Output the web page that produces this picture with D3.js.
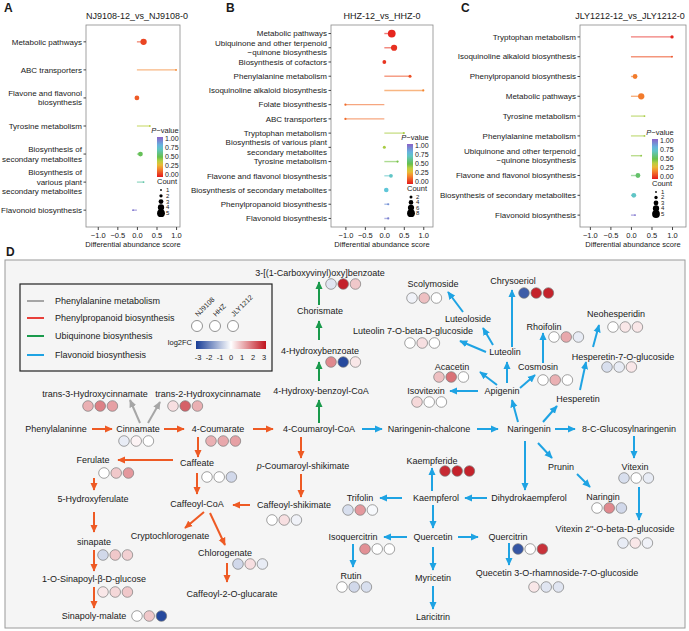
<!DOCTYPE html>
<meta charset="utf-8">
<script src="https://d3js.org/d3.v7.min.js"></script>
<style>
body { margin: 0; background: #fff; }
text { font-family: "Liberation Sans", Arial, sans-serif; fill: #1a1a1a; }
</style>
<div id="fig"></div>
<script>

// ---- panels A-C: differential abundance scores ----
var pathA = ["Metabolic pathways", "ABC transporters", "Flavone and flavonol|biosynthesis", "Tyrosine metabolism",
  "Biosynthesis of|secondary metabolites", "Biosynthesis of|various plant|secondary metabolites", "Flavonoid biosynthesis"];
var scoreA = [0.17, 1.0, 0.0, 0.33, 0.09, 0.17, -0.1];
var countA = [4, 1, 3, 1, 3, 1, 1];
var pvalA = [0.08, 0.2, 0.12, 0.4, 0.52, 0.65, 0.95];

var pathB = ["Metabolic pathways", "Ubiquinone and other terpenoid|\u2212quinone biosynthesis", "Biosynthesis of cofactors",
  "Phenylalanine metabolism", "Isoquinoline alkaloid biosynthesis", "Folate biosynthesis", "ABC transporters",
  "Tryptophan metabolism", "Biosynthesis of various plant|secondary metabolites", "Tyrosine metabolism",
  "Flavone and flavonol biosynthesis", "Biosynthesis of secondary metabolites", "Phenylpropanoid biosynthesis",
  "Flavonoid biosynthesis"];
var scoreB = [0.19, 0.25, 0.0, 0.66, 1.0, -1.0, -1.0, 0.5, 0.0, 0.34, 0.17, 0.05, 0.1, 0.1];
var countB = [8, 6, 3, 2, 1, 1, 1, 1, 2, 1, 3, 4, 1, 1];
var pvalB = [0.02, 0.04, 0.05, 0.1, 0.2, 0.15, 0.15, 0.42, 0.42, 0.48, 0.7, 0.73, 0.88, 0.92];

var pathC = ["Tryptophan metabolism", "Isoquinoline alkaloid biosynthesis", "Phenylpropanoid biosynthesis",
  "Metabolic pathways", "Tyrosine metabolism", "Phenylalanine metabolism",
  "Ubiquinone and other terpenoid|\u2212quinone biosynthesis", "Flavone and flavonol biosynthesis",
  "Biosynthesis of secondary metabolites", "Flavonoid biosynthesis"];
var scoreC = [1.0, 1.0, 0.1, 0.25, 0.33, 0.33, 0.25, 0.17, 0.07, 0.1];
var countC = [2, 1, 3, 4, 1, 1, 1, 3, 3, 1];
var pvalC = [0.02, 0.1, 0.18, 0.18, 0.42, 0.42, 0.45, 0.55, 0.7, 0.95];

var xTicks = [-1, -0.5, 0, 0.5, 1];
var pTicks = [1, 0.75, 0.5, 0.25, 0];

// ---- panel D: log2FC per cultivar ----
var cultivars = ["NJ9108", "HHZ", "JLY1212"];
var fcNames = ["Cinnamate", "trans-3-Hydroxycinnamate", "trans-2-Hydroxycinnamate", "4-Coumarate", "Caffeate",
  "Ferulate", "sinapate", "1-O-Sinapoyl-\u03b2-D-glucose", "Sinapoly-malate", "Chlorogenate", "Caffeoyl-shikimate",
  "4-Hydroxybenzoate", "3-[(1-Carboxyvinyl)oxy]benzoate", "Isovitexin", "Acacetin", "Cosmosin",
  "Luteolin 7-O-beta-D-glucoside", "Scolymoside", "Chrysoeriol", "Rhoifolin", "Hesperetin-7-O-glucoside",
  "Neohesperidin", "Vitexin", "Vitexin 2''-O-beta-D-glucoside", "Naringin", "Kaempferide", "Trifolin",
  "Isoquercitrin", "Rutin", "Quercitrin", "Quecetin 3-O-rhamnoside-7-O-glucoside"];
var fcNJ9108  = [-0.3, 1.0, 0.4, 1.0, 0, 0, -0.6, 0.3, 0, -0.6, 0, 1.5, -0.4, 0.5, 0.8, 0, 0, -0.2, -2.5, 0, -0.5, 0, -0.5, -0.3, 0, 2.7, -0.5, 1.4, 0, -2.6, 0.3];
var fcHHZ     = [0.15, 1.6, 2.0, 1.1, 0, 0.7, 0.7, 0.5, 0.7, 0.4, 0.4, -2.8, 2.8, 0, 1.8, 1.0, 0.4, 0.8, 2.8, 1.1, -0.3, 0.3, 0, 0.3, 1.5, 2.8, 1.3, 0, -0.6, 0, -0.4];
var fcJLY1212 = [0, 1.2, 1.0, 1.2, -0.6, 1.3, 0.6, 0.7, -2.8, -0.3, -0.2, 0.3, 0.7, 0, 0, 0, 0, 0, 2.8, -0.3, 0.3, 0.3, -0.3, -0.2, -0.6, 2.8, -0.1, 0, -0.5, 2.6, -0.4];

var pathways = ["Phenylalanine metabolism", "Phenylpropanoid biosynthesis", "Ubiquinone  biosynthesis", "Flavonoid biosynthesis"];
var fcTicks = [-3, -2, -1, 0, 1, 2, 3];

// ---- layout of the pathway map (label centre, first circle) ----
var nodes = [
  ["Phenylalaninne", 56, 429], ["Cinnamate", 138, 429, 124, 441], ["trans-3-Hydroxycinnamate", 95, 394, 88, 406],
  ["trans-2-Hydroxycinnamate", 208, 394, 173, 406], ["4-Coumarate", 218, 429, 211, 441],
  ["Caffeate", 197, 463, 207, 477], ["Ferulate", 93, 460, 104, 473], ["5-Hydroxyferulate", 93, 499],
  ["sinapate", 94, 542, 103, 555], ["1-O-Sinapoyl-\u03b2-D-glucose", 94, 579, 103, 592],
  ["Sinapoly-malate", 94, 616, 137, 616], ["Caffeoyl-CoA", 197, 504], ["Cryptochlorogenate", 170, 536],
  ["Chlorogenate", 225, 553, 238, 564], ["Caffeoyl-2-O-glucarate", 232, 594],
  ["4-Coumaroyl-CoA", 319, 429], ["p-Coumaroyl-shikimate", 303, 466], ["Caffeoyl-shikimate", 294, 505, 272, 520],
  ["4-Hydroxy-benzoyl-CoA", 321, 391], ["4-Hydroxybenzoate", 320, 351, 331, 362], ["Chorismate", 320, 311],
  ["3-[(1-Carboxyvinyl)oxy]benzoate", 320, 273, 331, 284],
  ["Naringenin-chalcone", 429, 429], ["Naringenin", 529, 429], ["Apigenin", 502, 391],
  ["Isovitexin", 426, 391, 417, 402], ["Acacetin", 452, 367, 439, 377], ["Cosmosin", 538, 367, 543, 380],
  ["Luteolin", 505, 352], ["Luteoloside", 468, 319], ["Luteolin 7-O-beta-D-glucoside", 413, 331, 410, 343],
  ["Scolymoside", 433, 284, 412, 298], ["Chrysoeriol", 513, 281, 524, 293], ["Rhoifolin", 544, 327, 554, 337],
  ["Hesperetin", 578, 399], ["Hesperetin-7-O-glucoside", 623, 357, 607, 367], ["Neohesperidin", 616, 314, 613, 327],
  ["8-C-Glucosylnaringenin", 629, 429], ["Vitexin", 635, 467, 624, 478],
  ["Vitexin 2''-O-beta-D-glucoside", 615, 529, 623, 543], ["Prunin", 561, 467], ["Naringin", 603, 497, 597, 508],
  ["Dihydrokaempferol", 529, 498], ["Kaempferol", 436, 498], ["Kaempferide", 432, 461, 445, 471],
  ["Trifolin", 360, 498, 348, 510], ["Quercetin", 433, 537], ["Isoquercitrin", 353, 537, 365, 549],
  ["Rutin", 351, 576, 342, 587], ["Quercitrin", 508, 537, 518, 549],
  ["Quecetin 3-O-rhamnoside-7-O-glucoside", 557, 573, 534, 587], ["Myricetin", 433, 578], ["Laricitrin", 433, 617]
];
// arrows: pathway index, x1, y1, x2, y2
var edges = [
  [0, 140, 423, 130, 400], [0, 148, 423, 160, 402],
  [1, 92, 429, 112, 429], [1, 164, 429, 184, 429], [1, 253, 429, 273, 429], [1, 198, 437, 198, 457],
  [1, 173, 460, 118, 460], [1, 94, 478, 94, 490], [1, 197, 473, 197, 494], [1, 94, 512, 94, 532],
  [1, 94, 550, 94, 571], [1, 94, 587, 94, 608], [1, 204, 512, 185, 528], [1, 210, 513, 225, 545],
  [1, 227, 563, 227, 582], [1, 301, 437, 301, 458], [1, 301, 474, 301, 497], [1, 250, 505, 233, 505],
  [2, 319, 423, 319, 400], [2, 319, 381, 319, 362], [2, 319, 340, 319, 321], [2, 319, 305, 319, 282],
  [3, 362, 429, 382, 429], [3, 477, 429, 498, 429], [3, 555, 429, 575, 429], [3, 634, 436, 634, 458],
  [3, 639, 487, 639, 520], [3, 538, 443, 552, 458], [3, 577, 474, 590, 487], [3, 525, 441, 525, 490],
  [3, 487, 498, 465, 498], [3, 402, 498, 380, 498], [3, 432, 491, 432, 468], [3, 433, 505, 433, 528],
  [3, 407, 537, 384, 537], [3, 458, 537, 478, 537], [3, 433, 547, 433, 570], [3, 433, 586, 433, 609],
  [3, 353, 544, 353, 567], [3, 509, 543, 509, 565], [3, 518, 422, 512, 400], [3, 543, 422, 557, 406],
  [3, 580, 390, 586, 362], [3, 593, 347, 599, 325], [3, 478, 391, 450, 391], [3, 497, 385, 480, 372],
  [3, 520, 388, 535, 375], [3, 507, 383, 507, 362], [3, 543, 363, 543, 333], [3, 512, 347, 512, 290],
  [3, 493, 345, 483, 328], [3, 486, 352, 460, 341], [3, 463, 312, 448, 292]
];

var svg = d3.select("#fig").append("svg").attr("width", 689).attr("height", 631);
var defs = svg.append("defs");

var pColor = d3.scaleLinear()
  .domain([0, 0.2, 0.35, 0.5, 0.75, 1])
  .range(["#e41a1c", "#f4862e", "#e2d53a", "#66c04c", "#5ec6e4", "#8a62c8"]);
var fcColor = d3.scaleLinear().domain([-3, 0, 3]).range(["#173c96", "#ffffff", "#c0121c"]).clamp(true);

// vertical gradient for the P-value bars
var pg = defs.append("linearGradient").attr("id", "pgrad").attr("x1", 0).attr("y1", 1).attr("x2", 0).attr("y2", 0);
d3.range(0, 1.01, 0.1).forEach(function(t) {
  pg.append("stop").attr("offset", t).attr("stop-color", pColor(t));
});

function lollipop(o) {
  var g = svg.append("g");
  var x = d3.scaleLinear().domain(o.domain).range([o.left, o.right]);
  var y = d3.scalePoint().domain(o.names).range([25, 227]).padding(0.6);
  var r = d3.scaleLinear().domain(o.sizeDomain).range(o.sizeRange);

  g.append("text").attr("x", o.letterX).attr("y", 12).text(o.letter)
    .style("font-size", "12px").style("font-weight", "bold");
  g.append("text").attr("x", o.titleX).attr("y", 19).attr("text-anchor", "middle")
    .style("font-size", "9px").text(o.title);

  g.append("rect").attr("x", o.left).attr("y", 25).attr("width", o.right - o.left).attr("height", 202)
    .attr("fill", "#fff").attr("stroke", "#8a8a8a").attr("stroke-width", 0.8);

  var ax = g.append("g").attr("transform", "translate(0,227)")
    .call(d3.axisBottom(x).tickValues(xTicks).tickSize(3).tickFormat(d3.format(".1f")));
  ax.select(".domain").remove();
  ax.selectAll("line").attr("stroke", "#444");
  ax.selectAll("text").style("font-size", "7.5px").attr("fill", "#222")
    .style("font-family", "'Liberation Sans', Arial, sans-serif");
  g.append("text").attr("x", (o.left + o.right) / 2).attr("y", 247).attr("text-anchor", "middle")
    .style("font-size", "7.5px").text("Differential abundance score");

  o.names.forEach(function(n, i) {
    var yy = y(n);
    g.append("line").attr("x1", o.left - 2.5).attr("x2", o.left).attr("y1", yy).attr("y2", yy).attr("stroke", "#444");
    var lines = n.split("|");
    var t = g.append("text").attr("text-anchor", "end").style("font-size", "8px");
    lines.forEach(function(l, k) {
      t.append("tspan").attr("x", o.left - 4)
        .attr("y", yy + (k - (lines.length - 1) / 2) * 9.5).attr("dy", "0.35em").text(l);
    });
    g.append("line").attr("x1", x(0)).attr("x2", x(o.scores[i])).attr("y1", yy).attr("y2", yy)
      .attr("stroke", pColor(o.pvals[i])).attr("stroke-width", 1.4).attr("stroke-opacity", 0.6);
    g.append("circle").attr("cx", x(o.scores[i])).attr("cy", yy).attr("r", r(o.counts[i]))
      .attr("fill", pColor(o.pvals[i]));
  });

  // P-value legend
  var L = o.legend;
  var pt = g.append("text").attr("x", L.x + 8).attr("y", L.y).attr("text-anchor", "middle").style("font-size", "7.5px");
  pt.append("tspan").style("font-style", "italic").text("P");
  pt.append("tspan").text("\u2212value");
  var py = d3.scaleLinear().domain([1, 0]).range([L.y + 6, L.y + 42]);
  g.append("rect").attr("x", L.x).attr("y", L.y + 4).attr("width", 6).attr("height", 40).attr("fill", "url(#pgrad)");
  pTicks.forEach(function(p) {
    g.append("text").attr("x", L.x + 8).attr("y", py(p)).attr("dy", "0.35em").style("font-size", "7px").text(p.toFixed(2));
  });
  g.append("text").attr("x", L.x + 10).attr("y", L.y + 51).attr("text-anchor", "middle").style("font-size", "7.5px").text("Count");
  o.sizeLegend.forEach(function(c, k) {
    var cy = L.y + 57 + k * L.step;
    g.append("circle").attr("cx", L.x + 4).attr("cy", cy).attr("r", r(c)).attr("fill", "#000");
    g.append("text").attr("x", L.x + 9).attr("y", cy).attr("dy", "0.33em").style("font-size", "6px").text(c);
  });
}

lollipop({letter: "A", letterX: 4, title: "NJ9108-12_vs_NJ9108-0", titleX: 137, left: 86, right: 180, domain: [-1.3, 1.1],
  names: pathA, scores: scoreA, counts: countA, pvals: pvalA, sizeDomain: [1, 5], sizeRange: [0.9, 3.9],
  sizeLegend: [1, 2, 3, 4, 5], legend: {x: 157, y: 133, step: 5.8}});
lollipop({letter: "B", letterX: 226, title: "HHZ-12_vs_HHZ-0", titleX: 382, left: 331, right: 433, domain: [-1.37, 1.25],
  names: pathB, scores: scoreB, counts: countB, pvals: pvalB, sizeDomain: [2, 8], sizeRange: [1.5, 3.9],
  sizeLegend: [2, 4, 6, 8], legend: {x: 407, y: 140, step: 5.4}});
lollipop({letter: "C", letterX: 461, title: "JLY1212-12_vs_JLY1212-0", titleX: 630, left: 580, right: 686, domain: [-1.24, 1.34],
  names: pathC, scores: scoreC, counts: countC, pvals: pvalC, sizeDomain: [1, 5], sizeRange: [0.9, 3.9],
  sizeLegend: [1, 2, 3, 4, 5], legend: {x: 652, y: 135, step: 5.5}});

// ---- panel D ----
var D = svg.append("g");
D.append("text").attr("x", 6).attr("y", 256).text("D").style("font-size", "12px").style("font-weight", "bold");
D.append("rect").attr("x", 5).attr("y", 260).attr("width", 680).attr("height", 368)
  .attr("fill", "#f5f5f5").attr("stroke", "#9a9a9a").attr("stroke-width", 1);

var pathColor = d3.scaleOrdinal().domain(pathways).range(["#a6a6a6", "#ee5a24", "#1a9a4c", "#1ea3e3"]);
var legendColor = d3.scaleOrdinal().domain(pathways).range(["#a6a6a6", "#e8403a", "#1a9a4c", "#1ea3e3"]);

pathways.forEach(function(p, i) {
  defs.append("marker").attr("id", "arr" + i).attr("viewBox", "0 0 10 10").attr("refX", 9).attr("refY", 5)
    .attr("markerUnits", "userSpaceOnUse").attr("markerWidth", 8).attr("markerHeight", 8).attr("orient", "auto")
    .append("path").attr("d", "M0,0.5 L10,5 L0,9.5 z").attr("fill", pathColor(p));
});

// legend box
D.append("rect").attr("x", 20).attr("y", 284).attr("width", 252).attr("height", 87)
  .attr("fill", "none").attr("stroke", "#222").attr("stroke-width", 1.2);
var legY = [301, 318, 336, 355];
pathways.forEach(function(p, i) {
  D.append("line").attr("x1", 27).attr("x2", 44).attr("y1", legY[i]).attr("y2", legY[i])
    .attr("stroke", legendColor(p)).attr("stroke-width", 2);
  D.append("text").attr("x", 55).attr("y", legY[i]).attr("dy", "0.35em").style("font-size", "9px").text(p);
});
var legC = d3.scalePoint().domain(cultivars).range([197, 233]);
cultivars.forEach(function(c) {
  D.append("circle").attr("cx", legC(c)).attr("cy", 326).attr("r", 5.5).attr("fill", "#fff").attr("stroke", "#777").attr("stroke-width", 0.8);
  D.append("text").attr("transform", "translate(" + (legC(c) + 1) + ",317) rotate(-45)")
    .style("font-size", "7px").text(c);
});
var fg = defs.append("linearGradient").attr("id", "fcgrad");
[-3, -1.5, 0, 1.5, 3].forEach(function(v) {
  fg.append("stop").attr("offset", (v + 3) / 6).attr("stop-color", fcColor(v));
});
var fcx = d3.scaleLinear().domain([-3, 3]).range([198, 264]);
D.append("rect").attr("x", 196).attr("y", 341).attr("width", 70).attr("height", 8).attr("fill", "url(#fcgrad)");
D.append("text").attr("x", 192).attr("y", 345).attr("text-anchor", "end").style("font-size", "7.5px").text("log2FC");
fcTicks.forEach(function(v) {
  D.append("text").attr("x", fcx(v)).attr("y", 360).attr("text-anchor", "middle").style("font-size", "7.5px").text(v);
});

// arrows
edges.forEach(function(e) {
  D.append("line").attr("x1", e[1]).attr("y1", e[2]).attr("x2", e[3]).attr("y2", e[4])
    .attr("stroke", pathColor(pathways[e[0]])).attr("stroke-width", 2).attr("marker-end", "url(#arr" + e[0] + ")");
});

// metabolite labels and log2FC circles
var dx = d3.scalePoint().domain(cultivars).range([0, 24.4]);
nodes.forEach(function(n) {
  var t = D.append("text").attr("x", n[1]).attr("y", n[2]).attr("dy", "0.35em").attr("text-anchor", "middle")
    .style("font-size", "9px");
  if (n[0] === "p-Coumaroyl-shikimate") {
    t.append("tspan").style("font-style", "italic").text("p");
    t.append("tspan").text("-Coumaroyl-shikimate");
  } else {
    t.text(n[0]);
  }
  var k = fcNames.indexOf(n[0]);
  if (k >= 0) {
    var vals = [fcNJ9108[k], fcHHZ[k], fcJLY1212[k]];
    cultivars.forEach(function(c, j) {
      D.append("circle").attr("cx", n[3] + dx(c)).attr("cy", n[4]).attr("r", 5.3)
        .attr("fill", fcColor(vals[j])).attr("stroke", "#7a7a7a").attr("stroke-width", 0.7);
    });
  }
});

</script>
